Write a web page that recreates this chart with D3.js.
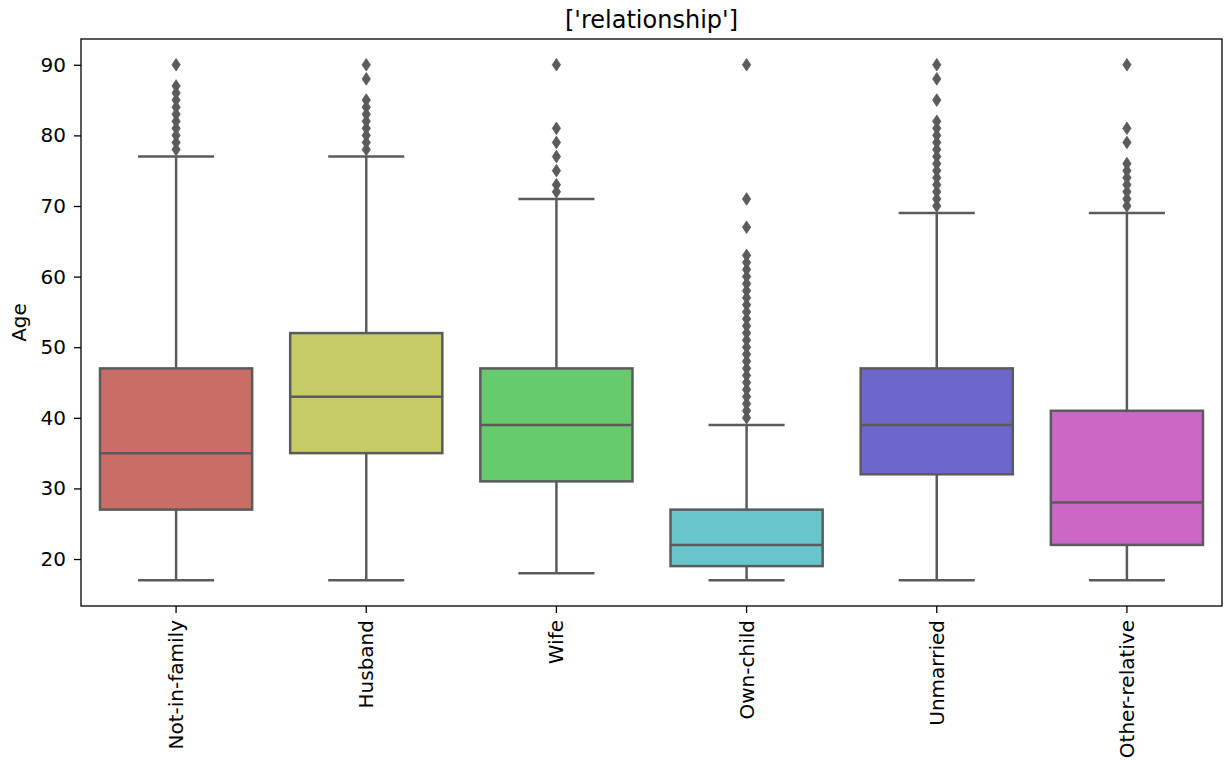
<!DOCTYPE html>
<html>
<head>
<meta charset="utf-8">
<script src="https://cdn.jsdelivr.net/npm/d3@7"></script>
<style>
  html, body { margin: 0; padding: 0; background: #ffffff; }
  svg { display: block; font-family: "DejaVu Sans", sans-serif; }
</style>
</head>
<body>
<svg id="chart" width="1227" height="766"></svg>
<script>
// Relationship categories and their age distribution summaries
const categories = ["Not-in-family", "Husband", "Wife", "Own-child", "Unmarried", "Other-relative"];
const whiskerLow  = [17, 17, 18, 17, 17, 17];
const q1          = [27, 35, 31, 19, 32, 22];
const medians     = [35, 43, 39, 22, 39, 28];
const q3          = [47, 52, 47, 27, 47, 41];
const whiskerHigh = [77, 77, 71, 39, 69, 69];
const outliers = [
  [78, 79, 80, 81, 82, 83, 84, 85, 86, 87, 90],
  [78, 79, 80, 81, 82, 83, 84, 85, 88, 90],
  [72, 73, 75, 77, 79, 81, 90],
  [40, 41, 42, 43, 44, 45, 46, 47, 48, 49, 50, 51, 52, 53, 54, 55, 56, 57, 58, 59, 60, 61, 62, 63, 67, 71, 90],
  [70, 71, 72, 73, 74, 75, 76, 77, 78, 79, 80, 81, 82, 85, 88, 90],
  [70, 71, 72, 73, 74, 75, 76, 79, 81, 90]
];
const boxColors = ["#cb6d67", "#c5cb67", "#67cb6d", "#67c5cb", "#6d67cb", "#cb67c5"];
const yTicks = [20, 30, 40, 50, 60, 70, 80, 90];
const titleText = "['relationship']";
const yLabel = "Age";

const rows = categories.map((c, i) => ({
  name: c, lo: whiskerLow[i], q1: q1[i], med: medians[i], q3: q3[i], hi: whiskerHigh[i],
  fliers: outliers[i], color: boxColors[i]
}));

const svg = d3.select("#chart");
const plot = { left: 81, right: 1222, top: 39, bottom: 606 };
const lineColor = "#5b5b5b";
const lw = 2.5;
const fontSize = 20;

const x = d3.scaleBand().domain(categories).range([plot.left, plot.right]).padding(0);
const y = d3.scaleLinear().domain([13.35, 93.65]).range([plot.bottom, plot.top]);

const boxW = x.bandwidth() * 0.8;
const capW = boxW * 0.5;

// thin diamond marker used for outliers
const thinDiamond = {
  draw(ctx, size) {
    const h = Math.sqrt(size) * 1.15, w = h * 0.66;
    ctx.moveTo(0, -h / 2);
    ctx.lineTo(w / 2, 0);
    ctx.lineTo(0, h / 2);
    ctx.lineTo(-w / 2, 0);
    ctx.closePath();
  }
};

const g = svg.append("g");

const groups = g.selectAll("g.box").data(rows).join("g").attr("class", "box")
  .attr("transform", d => `translate(${x(d.name) + x.bandwidth() / 2},0)`);

// whiskers
groups.append("line").attr("x1", 0).attr("x2", 0)
  .attr("y1", d => y(d.q3)).attr("y2", d => y(d.hi))
  .attr("stroke", lineColor).attr("stroke-width", lw);
groups.append("line").attr("x1", 0).attr("x2", 0)
  .attr("y1", d => y(d.q1)).attr("y2", d => y(d.lo))
  .attr("stroke", lineColor).attr("stroke-width", lw);
// caps
groups.append("line").attr("x1", -capW / 2).attr("x2", capW / 2)
  .attr("y1", d => y(d.hi)).attr("y2", d => y(d.hi))
  .attr("stroke", lineColor).attr("stroke-width", lw);
groups.append("line").attr("x1", -capW / 2).attr("x2", capW / 2)
  .attr("y1", d => y(d.lo)).attr("y2", d => y(d.lo))
  .attr("stroke", lineColor).attr("stroke-width", lw);
// boxes
groups.append("rect")
  .attr("x", -boxW / 2).attr("width", boxW)
  .attr("y", d => y(d.q3)).attr("height", d => y(d.q1) - y(d.q3))
  .attr("fill", d => d.color).attr("stroke", lineColor).attr("stroke-width", lw);
// medians
groups.append("line").attr("x1", -boxW / 2).attr("x2", boxW / 2)
  .attr("y1", d => y(d.med)).attr("y2", d => y(d.med))
  .attr("stroke", lineColor).attr("stroke-width", lw);
// outliers
const sym = d3.symbol().type(thinDiamond).size(120);
groups.selectAll("path.flier").data(d => d.fliers).join("path").attr("class", "flier")
  .attr("transform", v => `translate(0,${y(v)})`)
  .attr("d", sym)
  .attr("fill", lineColor).attr("stroke", lineColor).attr("stroke-width", 0.8);

// frame
svg.append("rect").attr("x", plot.left).attr("y", plot.top)
  .attr("width", plot.right - plot.left).attr("height", plot.bottom - plot.top)
  .attr("fill", "none").attr("stroke", "#000").attr("stroke-width", 1.3);

// y axis
const yAxis = svg.append("g").attr("transform", `translate(${plot.left},0)`)
  .call(d3.axisLeft(y).tickValues(yTicks).tickSize(7).tickPadding(8));
yAxis.select(".domain").remove();
yAxis.selectAll("text").attr("font-size", fontSize).attr("fill", "#000")
  .attr("font-family", "DejaVu Sans");
yAxis.selectAll("line").attr("stroke", "#000").attr("stroke-width", 1.3);

// x axis
const xAxis = svg.append("g").attr("transform", `translate(0,${plot.bottom})`)
  .call(d3.axisBottom(x).tickSize(7).tickPadding(0));
xAxis.select(".domain").remove();
xAxis.selectAll("line").attr("stroke", "#000").attr("stroke-width", 1.3);
xAxis.selectAll("text")
  .attr("font-size", fontSize).attr("fill", "#000").attr("font-family", "DejaVu Sans")
  .attr("text-anchor", "end")
  .attr("transform", "translate(0,14) rotate(-90)")
  .attr("x", 0).attr("y", 0).attr("dy", "0.35em");

// title and axis label
svg.append("text").attr("x", (plot.left + plot.right) / 2).attr("y", 28)
  .attr("text-anchor", "middle").attr("font-size", 24).attr("fill", "#000")
  .text(titleText);
svg.append("text")
  .attr("transform", `translate(26,${(plot.top + plot.bottom) / 2}) rotate(-90)`)
  .attr("text-anchor", "middle").attr("font-size", fontSize).attr("fill", "#000")
  .text(yLabel);
</script>
</body>
</html>
